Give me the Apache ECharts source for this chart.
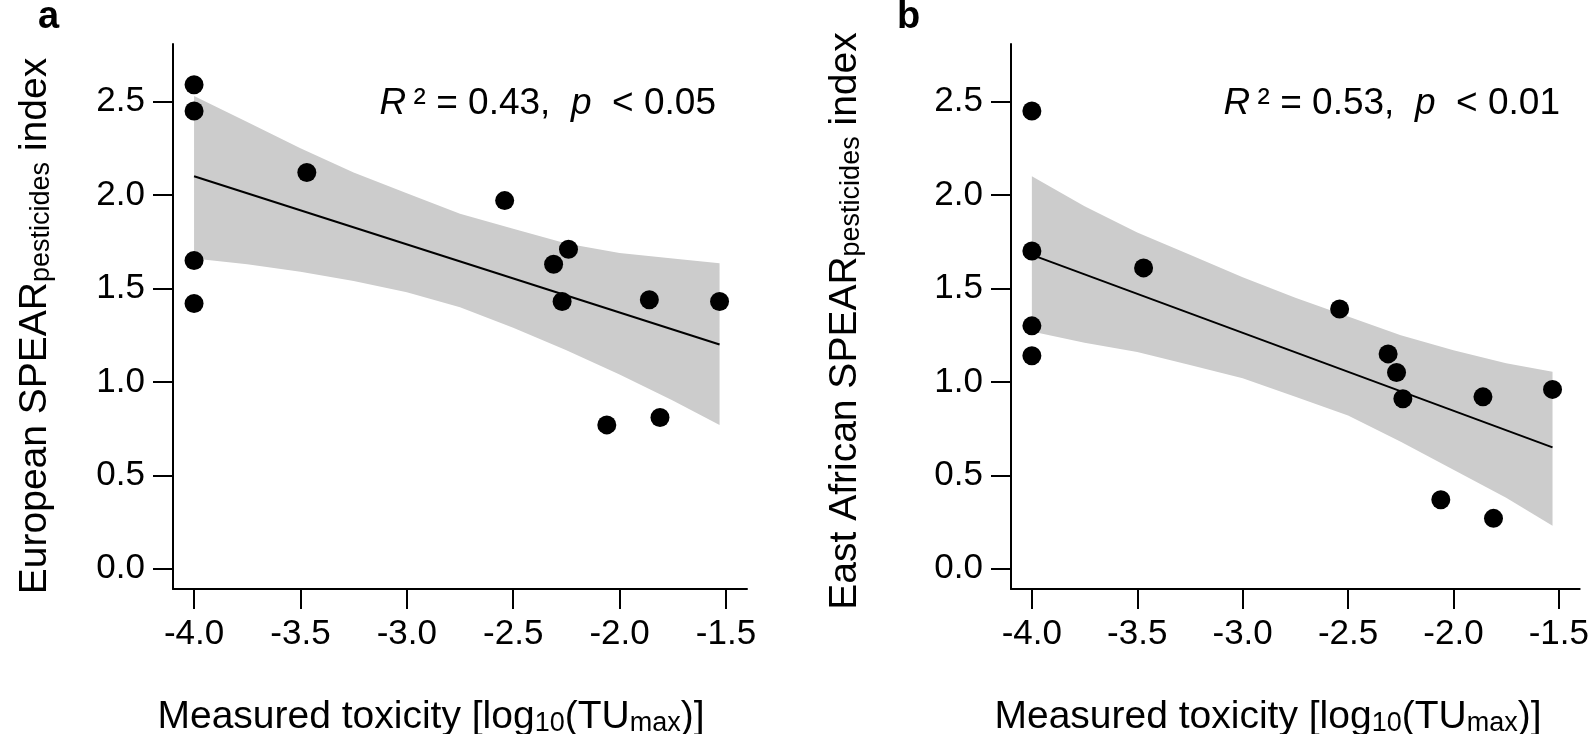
<!DOCTYPE html>
<html><head><meta charset="utf-8">
<script src="https://cdn.jsdelivr.net/npm/echarts@6/dist/echarts.min.js"></script>
<style>html,body{margin:0;padding:0;background:#fff}#c{width:1592px;height:734px}</style>
</head><body><div id="c"></div>
<script>
// ---- data ----
const xTicks = [-4.0, -3.5, -3.0, -2.5, -2.0, -1.5];
const yTicks = [0.0, 0.5, 1.0, 1.5, 2.0, 2.5];

// Measured toxicity log10(TUmax) per site
const toxicity = [-4.0, -4.0, -4.0, -4.0, -3.47, -2.54, -2.31, -2.27, -2.24, -2.06, -1.86, -1.81, -1.53];
// panel a: European SPEAR index
const spearEU = [2.59, 2.45, 1.65, 1.42, 2.12, 1.97, 1.63, 1.43, 1.71, 0.77, 1.44, 0.81, 1.43];
// panel b: East African SPEAR index
const spearEA = [2.45, 1.70, 1.30, 1.14, 1.61, 1.39, 1.15, 1.05, 0.91, 0.37, 0.92, 0.27, 0.96];

// fitted regression lines (end points)
const fitX = [-4.0, -1.53];
const fitEU = [2.10, 1.20];
const fitEA = [1.68, 0.65];

// confidence bands
const bandX = [-4.0, -3.75, -3.5, -3.25, -3.0, -2.75, -2.5, -2.25, -2.0, -1.75, -1.53];
const bandEUUpper = [2.53, 2.39, 2.25, 2.12, 2.01, 1.90, 1.82, 1.74, 1.69, 1.66, 1.635];
const bandEULower = [1.66, 1.63, 1.59, 1.54, 1.48, 1.40, 1.29, 1.17, 1.04, 0.90, 0.77];
const bandEAUpper = [2.10, 1.94, 1.80, 1.68, 1.56, 1.45, 1.35, 1.25, 1.17, 1.10, 1.055];
const bandEALower = [1.27, 1.21, 1.16, 1.09, 1.02, 0.92, 0.82, 0.68, 0.53, 0.38, 0.23];

const statsEU = '{i|R}\u2009² = 0.43,  {i|p}  < 0.05';
const statsEA = '{i|R}\u2009² = 0.53,  {i|p}  < 0.01';

// ---- chart ----
const FONT = '"Liberation Sans", Arial, Helvetica, sans-serif';
const chart = echarts.init(document.getElementById('c'), null, {renderer: 'canvas'});

function xAxis(gi) {
  return {
    type: 'value', gridIndex: gi, min: -4.099, max: -1.401,
    axisLine: {show: true, onZero: false, lineStyle: {color: '#000', width: 2}},
    axisTick: {show: true, length: 20, customValues: xTicks, lineStyle: {color: '#000', width: 2}},
    axisLabel: {customValues: xTicks, margin: 28, fontSize: 35, color: '#000', fontFamily: FONT,
      formatter: v => v.toFixed(1)},
    splitLine: {show: false}
  };
}
function yAxis(gi) {
  return {
    type: 'value', gridIndex: gi, min: -0.108, max: 2.808,
    axisLine: {show: true, onZero: false, lineStyle: {color: '#000', width: 2}},
    axisTick: {show: true, length: 20, customValues: yTicks, lineStyle: {color: '#000', width: 2}},
    axisLabel: {customValues: yTicks, margin: 28, fontSize: 35, color: '#000', fontFamily: FONT,
      formatter: v => v.toFixed(1)},
    splitLine: {show: false}
  };
}
function band(gi, up, lo) {
  return {
    type: 'custom', xAxisIndex: gi, yAxisIndex: gi, z: 1, silent: true,
    data: [[bandX[0], up[0]]],
    renderItem: function (params, api) {
      const pts = [];
      for (let i = 0; i < bandX.length; i++) pts.push(api.coord([bandX[i], up[i]]));
      for (let i = bandX.length - 1; i >= 0; i--) pts.push(api.coord([bandX[i], lo[i]]));
      return {type: 'polygon', shape: {points: pts}, style: {fill: '#cccccc'}};
    }
  };
}
function fitLine(gi, ys) {
  return {
    type: 'line', xAxisIndex: gi, yAxisIndex: gi, z: 2, symbol: 'none', silent: true,
    data: fitX.map((x, i) => [x, ys[i]]),
    lineStyle: {color: '#000', width: 2}
  };
}
function pts(gi, ys) {
  return {
    type: 'scatter', xAxisIndex: gi, yAxisIndex: gi, z: 3, symbolSize: 19,
    itemStyle: {color: '#000', opacity: 1},
    data: toxicity.map((x, i) => [x, ys[i]])
  };
}

const sub = {fontSize: 27, fontFamily: FONT, fill: '#000', lineHeight: 27, verticalAlign: 'bottom'};
const nrm = {fontSize: 39, fontFamily: FONT, fill: '#000', lineHeight: 54, verticalAlign: 'bottom'};

function xTitle(cx) {
  return {
    type: 'text', x: cx, y: 710, z: 10,
    style: {text: '{n|Measured toxicity [log}{s|10}{n|(TU}{s|max}{n|)]}',
      rich: {n: nrm, s: sub}, align: 'center', verticalAlign: 'middle'}
  };
}
function yTitle(cx, cy, first) {
  return {
    type: 'text', x: cx, y: cy, rotation: Math.PI / 2, z: 10,
    style: {text: '{n|' + first + ' SPEAR}{s|pesticides}{n| index}',
      rich: {n: nrm, s: sub}, align: 'center', verticalAlign: 'middle'}
  };
}
function stats(rx, txt) {
  return {
    type: 'text', x: rx, y: 104, z: 10,
    style: {text: txt, font: '37px ' + FONT, fill: '#000',
      rich: {i: {fontStyle: 'italic', fontSize: 37, fontFamily: FONT, fill: '#000'}},
      align: 'right', verticalAlign: 'middle'}
  };
}

chart.setOption({
  animation: false,
  backgroundColor: '#fff',
  grid: [
    {left: 173, top: 44, width: 574, height: 545},
    {left: 1011, top: 44, width: 574, height: 545}
  ],
  xAxis: [xAxis(0), xAxis(1)],
  yAxis: [yAxis(0), yAxis(1)],
  series: [
    band(0, bandEUUpper, bandEULower), fitLine(0, fitEU), pts(0, spearEU),
    band(1, bandEAUpper, bandEALower), fitLine(1, fitEA), pts(1, spearEA)
  ],
  graphic: [
    {type: 'text', x: 38, y: 18, style: {text: 'a', font: 'bold 38px ' + FONT, fill: '#000', verticalAlign: 'middle'}},
    {type: 'text', x: 897, y: 18, style: {text: 'b', font: 'bold 38px ' + FONT, fill: '#000', verticalAlign: 'middle'}},
    xTitle(431), xTitle(1268),
    yTitle(28, 326, 'European'), yTitle(838, 321, 'East African'),
    stats(716, statsEU), stats(1560, statsEA)
  ]
});
</script>
</body></html>
